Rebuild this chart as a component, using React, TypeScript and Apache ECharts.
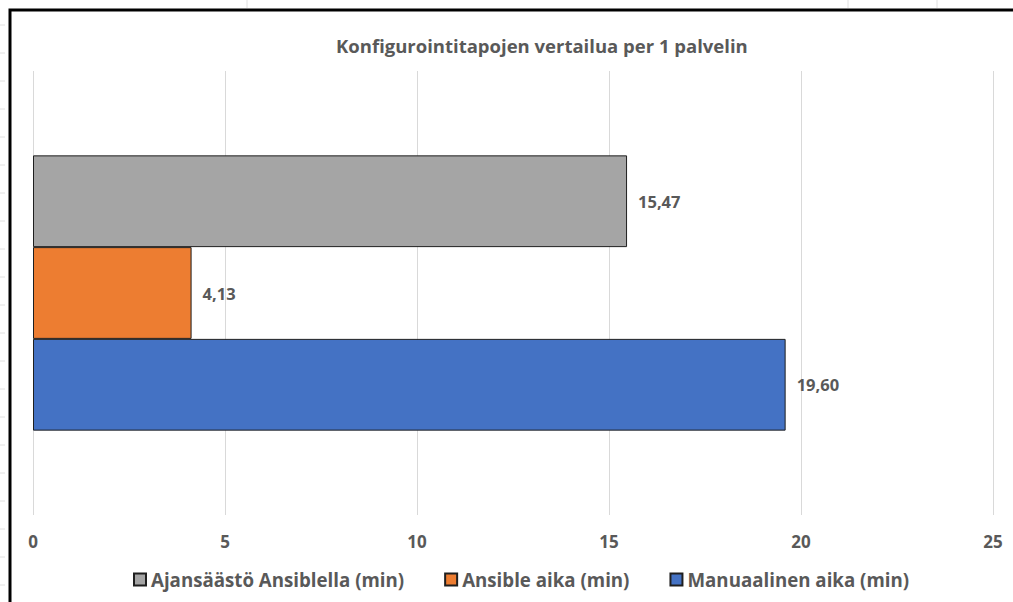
import React, { useEffect, useRef } from "react";
import * as echarts from "echarts";

const title = "Konfigurointitapojen vertailua per 1 palvelin";
const categories = ["Palvelin"];
const seriesNames = [
  "Ajansäästö Ansiblella (min)",
  "Ansible aika (min)",
  "Manuaalinen aika (min)",
];
const seriesValues = [[15.47], [4.13], [19.6]];
const seriesColors = ["#A5A5A5", "#ED7D31", "#4472C4"];
const xTicks = { min: 0, max: 25, interval: 5 };

const FONT = "'Open Sans', sans-serif";
const TEXT = "#595959";

export default function App() {
  const ref = useRef<HTMLDivElement>(null);
  useEffect(() => {
    if (!ref.current) return;
    const chart = echarts.init(ref.current, undefined, { renderer: "svg" });
    const rowLines: any[] = [];
    for (let y = 25; y < 602; y += 28) {
      rowLines.push({
        type: "line",
        shape: { x1: 0, y1: y, x2: 5, y2: y },
        style: { stroke: "#e0e0e0", lineWidth: 1 },
        silent: true,
      });
    }
    [247, 848, 937].forEach((x) => {
      rowLines.push({
        type: "line",
        shape: { x1: x, y1: 0, x2: x, y2: 8 },
        style: { stroke: "#e0e0e0", lineWidth: 1 },
        silent: true,
      });
    });
    chart.setOption({
      animation: false,
      backgroundColor: "#ffffff",
      textStyle: { fontFamily: FONT },
      title: {
        text: title,
        left: 336,
        top: 36,
        padding: 0,
        textStyle: { color: TEXT, fontSize: 18.5, fontWeight: "bold", fontFamily: FONT },
      },
      legend: {
        data: seriesNames,
        top: 565,
        left: 128,
        itemWidth: 12,
        itemHeight: 12,
        itemGap: 40,
        icon: "rect",
        textStyle: { color: TEXT, fontSize: 18.7, fontWeight: "bold", fontFamily: FONT },
      },
      grid: { left: 33, right: 20, top: 71, bottom: 87, containLabel: false },
      xAxis: {
        type: "value",
        min: xTicks.min,
        max: xTicks.max,
        interval: xTicks.interval,
        axisLine: { show: false },
        axisTick: { show: false },
        splitLine: { lineStyle: { color: "#d9d9d9", width: 1 } },
        axisLabel: {
          color: TEXT,
          fontSize: 17,
          fontWeight: "bold",
          fontFamily: FONT,
          margin: 18,
        },
      },
      yAxis: {
        type: "category",
        data: categories,
        axisLine: { show: false },
        axisTick: { show: false },
        axisLabel: { show: false },
      },
      series: seriesNames.map((name, i) => ({
        name,
        type: "bar",
        data: seriesValues[i],
        barGap: "0%",
        barCategoryGap: "38%",
        itemStyle: { color: seriesColors[i], borderColor: "#1f1f1f", borderWidth: 1 },
        label: {
          show: true,
          position: "right",
          distance: 11,
          color: TEXT,
          fontSize: 16.5,
          fontWeight: "bold",
          fontFamily: FONT,
          formatter: (p: any) => Number(p.value).toFixed(2).replace(".", ","),
        },
      })),
      graphic: [
        ...rowLines,
        {
          type: "rect",
          shape: { x: 10, y: 10, width: 1100, height: 700 },
          style: { fill: "none", stroke: "#000000", lineWidth: 3 },
          silent: true,
        },
      ],
    });
    return () => chart.dispose();
  }, []);
  return (
    <div
      ref={ref}
      style={{ position: "fixed", left: 0, top: 0, width: 1013, height: 602 }}
    />
  );
}
